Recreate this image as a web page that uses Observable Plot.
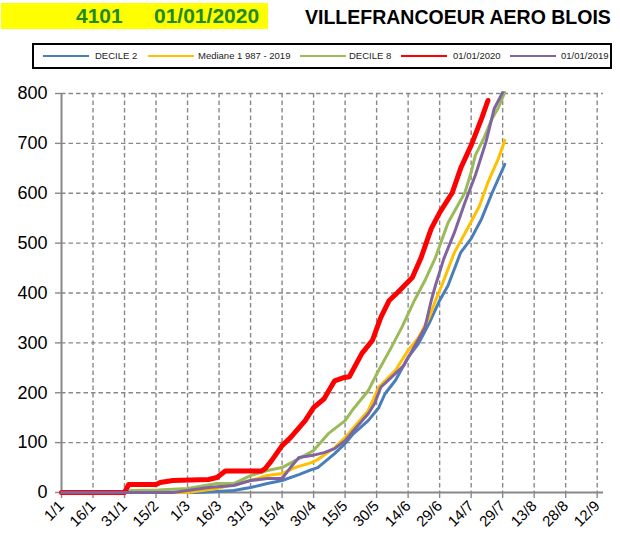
<!DOCTYPE html>
<html>
<head>
<meta charset="utf-8">
<script src="https://cdn.jsdelivr.net/npm/d3@7"></script>
<script src="https://cdn.jsdelivr.net/npm/@observablehq/plot@0.6"></script>
<style>
  body { margin: 0; background: #fff; font-family: "Liberation Sans", Arial, sans-serif; }
  #page { position: relative; width: 620px; height: 551px; overflow: hidden; }
  #header { position: absolute; left: 0; top: 0; width: 620px; height: 75px; }
  #ybox { position: absolute; left: 1px; top: 3px; width: 267px; height: 26px; background: #ffff00; }
  .gtxt { position: absolute; top: 3px; line-height: 26px; font-size: 21px; font-weight: bold; color: #1f8a1f; }
  #title { position: absolute; left: 305px; top: 5px; line-height: 24px; font-size: 19.5px; font-weight: bold; color: #000; white-space: nowrap; }
  #legend { position: absolute; left: 32px; top: 43px; width: 576px; height: 22px; border: 2px solid #000; }
  .lgline { position: absolute; top: 10px; height: 2px; }
  .lgtxt { position: absolute; top: 0; line-height: 22px; font-size: 9.5px; color: #222; white-space: nowrap; }
  #chart { position: absolute; left: 0; top: 75px; }
</style>
</head>
<body>
<div id="page">
  <div id="header">
    <div id="ybox"></div>
    <div class="gtxt" style="left:76px">4101</div>
    <div class="gtxt" style="left:154px">01/01/2020</div>
    <div id="title">VILLEFRANCOEUR AERO BLOIS</div>
    <div id="legend"></div>
  </div>
  <div id="chart"></div>
</div>
<script>
// X ticks (day of year 2020, 0 = 1/1)
const tickDays = [0,15,30,45,60,75,90,105,120,135,150,165,180,195,210,225,240,255];
const tickLabels = ["1/1","16/1","31/1","15/2","1/3","16/3","31/3","15/4","30/4","15/5","30/5","14/6","29/6","14/7","29/7","13/8","28/8","12/9"];
const yTicks = [0,100,200,300,400,500,600,700,800];

// Series names and colors
const seriesNames = ["DECILE 2","Mediane 1 987 -  2019","DECILE 8","01/01/2020","01/01/2019"];
const seriesColors = ["#4a7ebb","#ffc000","#9bbb59","#ff0000","#8064a2"];

// DECILE 2
const decile2Days = [0,65,74,82,90,98,105,113,119,122,130,135,139,146,151,154,159,165,170,175,180,184,190,195,200,205,211];
const decile2Vals = [0,0,2,4,10,18,24,36,46,50,78,98,118,144,170,198,225,271,299,339,385,415,481,509,549,601,658];
// Mediane 1987-2019
const medianDays = [0,60,74,90,98,105,111,119,122,130,135,139,146,151,159,165,170,175,178,181,187,194,199,203,208,211];
const medianVals = [0,0,8,24,34,38,50,60,66,90,110,130,164,211,245,285,311,351,385,415,481,535,575,622,670,706];
// DECILE 8
const decile8Days = [0,31,33,46,60,74,82,90,98,105,113,120,127,135,139,146,151,157,162,168,173,178,184,192,195,197,201,205,208,211];
const decile8Vals = [0,0,4,5,8,18,18,34,44,50,68,84,118,144,168,204,245,291,331,385,425,471,541,601,642,676,710,750,772,802];
// 01/01/2020
const y2020Days = [0,30,32,45,47,53,70,74,78,95,97,100,105,109,116,120,125,130,134,137,143,148,152,156,160,167,171,176,180,186,190,195,200,203];
const y2020Vals = [0,0,16,16,20,24,26,30,43,43,48,64,94,110,144,170,188,224,230,232,279,305,351,385,401,431,469,529,561,601,650,696,750,786];
// 01/01/2019
const y2019Days = [0,53,60,70,82,90,98,105,109,113,119,125,130,135,139,146,149,152,157,163,167,173,176,178,182,187,192,197,202,206,210];
const y2019Vals = [0,0,4,10,14,24,28,28,50,70,74,80,88,104,124,158,178,211,231,255,285,331,385,415,469,521,581,636,702,770,802];

const seriesDays = [decile2Days, medianDays, decile8Days, y2020Days, y2019Days];
const seriesVals = [decile2Vals, medianVals, decile8Vals, y2020Vals, y2019Vals];
const seriesWidths = [3, 3, 3, 5, 3];

// Legend (HTML)
const legendPos = [[9,61],[114,164],[266,315],[367,419],[476,527]];
const legend = document.getElementById("legend");
seriesNames.forEach((n, i) => {
  const ln = document.createElement("div");
  ln.className = "lgline";
  ln.style.left = legendPos[i][0] + "px";
  ln.style.width = "46px";
  ln.style.background = seriesColors[i];
  legend.appendChild(ln);
  const t = document.createElement("div");
  t.className = "lgtxt";
  t.style.left = legendPos[i][1] + "px";
  t.textContent = n;
  legend.appendChild(t);
});

const lineMarks = seriesNames.map((n, i) => {
  const rows = seriesDays[i].map((d, j) => ({day: d, value: seriesVals[i][j]}));
  return Plot.line(rows, {x: "day", y: "value", stroke: seriesColors[i], strokeWidth: seriesWidths[i], curve: "linear", strokeLinejoin: "round", strokeLinecap: "round"});
});

const chart = Plot.plot({
  width: 620,
  height: 476,
  marginTop: 18,
  marginBottom: 59,
  marginLeft: 61,
  marginRight: 17,
  style: {fontFamily: "'Liberation Sans', Arial, sans-serif", background: "#fff", overflow: "visible"},
  x: {domain: [0, 258], axis: null},
  y: {domain: [0, 800], axis: null},
  marks: [
    Plot.gridX(tickDays.slice(1), {stroke: "#888", strokeOpacity: 1, strokeWidth: 1.4, strokeDasharray: "4.5,3"}),
    Plot.gridY(yTicks.slice(1), {stroke: "#888", strokeOpacity: 1, strokeWidth: 1.4, strokeDasharray: "4.5,3"}),
    Plot.axisY(yTicks, {label: null, tickSize: 6, tickPadding: 8, fontSize: 18, stroke: "#888", fill: "#000", strokeWidth: 1.4}),
    Plot.axisX(tickDays, {label: null, tickSize: 6, tickPadding: 5, fontSize: 15, tickRotate: -45, stroke: "#888", fill: "#000", strokeWidth: 1.4,
      tickFormat: d => tickLabels[tickDays.indexOf(d)]}),
    Plot.ruleX([0], {stroke: "#888", strokeWidth: 2}),
    Plot.ruleY([0], {stroke: "#888", strokeWidth: 2}),
    ...lineMarks
  ]
});
document.getElementById("chart").appendChild(chart);
</script>
</body>
</html>
